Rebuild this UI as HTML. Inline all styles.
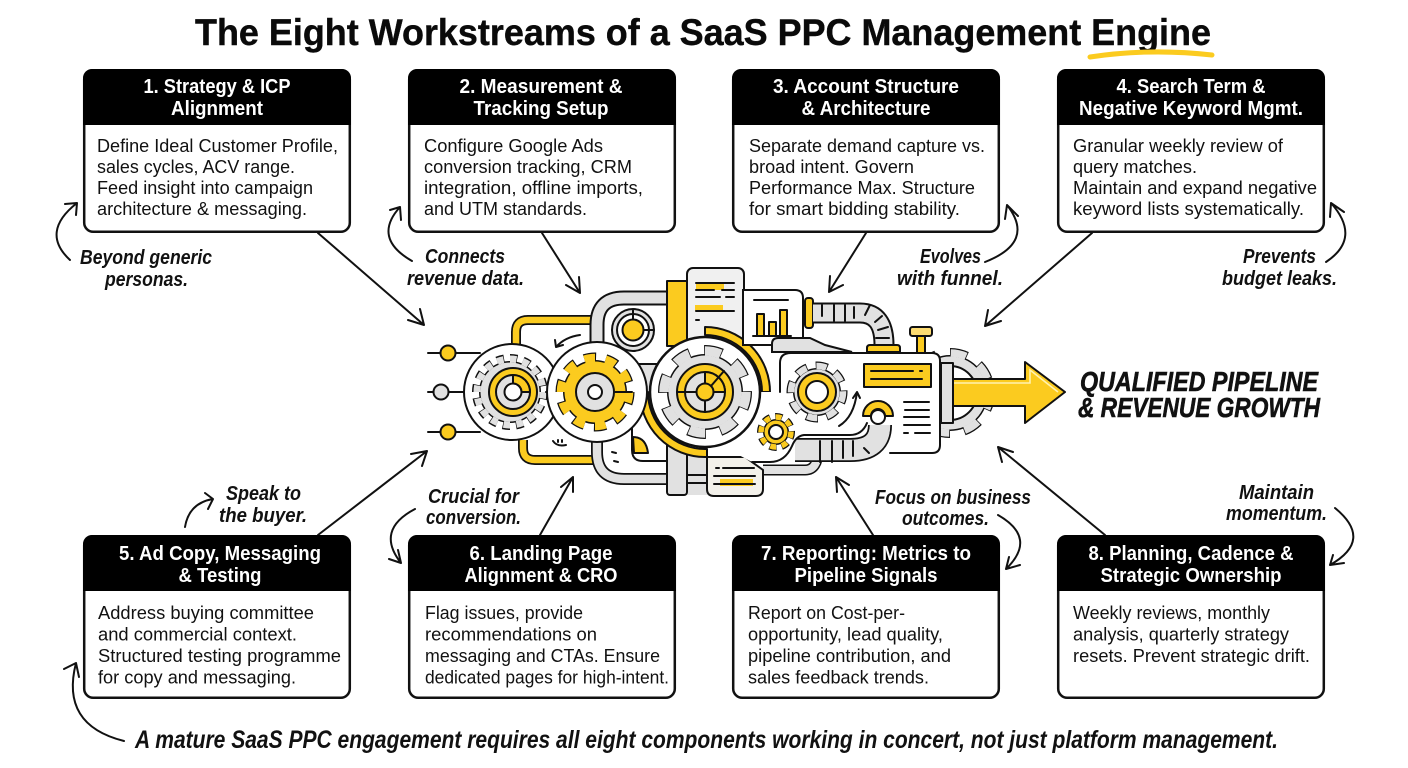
<!DOCTYPE html>
<html><head><meta charset="utf-8"><title>The Eight Workstreams of a SaaS PPC Management Engine</title>
<style>
html,body{margin:0;padding:0;background:#fff;width:1408px;height:768px;overflow:hidden}
svg{display:block}
text{font-family:"Liberation Sans",sans-serif}
.h{font-weight:bold;font-size:20px;fill:#fff;text-anchor:middle}
.b{font-size:18.5px;fill:#111}
.n{font-family:"Liberation Sans",sans-serif;font-style:italic;font-weight:bold;font-size:20.5px;fill:#111}
.c{fill:#fff;stroke:#111;stroke-width:2.5}
.k{fill:none;stroke:#111;stroke-width:2;stroke-linecap:round;stroke-linejoin:round}
.m{stroke:#111;stroke-width:2;stroke-linejoin:round;stroke-linecap:round}
.g{fill:#e1e1e1}.y{fill:#fbcb1f}.w{fill:#fff}
</style></head><body>
<svg width="1408" height="768" viewBox="0 0 1408 768" xmlns="http://www.w3.org/2000/svg">
<defs>
<g id="card"><rect class="c" x="1.2" y="1.2" width="265.6" height="161.6" rx="9"/><path d="M0 56V9a9 9 0 0 1 9-9H259a9 9 0 0 1 9 9V56Z" fill="#000"/></g>
</defs>

<text x="195" y="45" font-weight="bold" font-size="37" fill="#0a0a0a" stroke="#0a0a0a" stroke-width=".4" textLength="1016" lengthAdjust="spacingAndGlyphs">The Eight Workstreams of a SaaS PPC Management Engine</text>
<path d="M1090 57Q1150 48 1212 55" fill="none" stroke="#fbcb1f" stroke-width="5" stroke-linecap="round"/>

<!-- connectors -->
<g class="k">
<path d="M318 233L424 325M408 320L424 325L420 309"/>
<path d="M542 233L580 293M566 285L580 293L579 277"/>
<path d="M866 233L829 292M830 276L829 292L843 285"/>
<path d="M1092 233L985 326M988 310L985 326L1001 321"/>
<path d="M318 535L427 451M411 454L427 451L422 466"/>
<path d="M540 535L573 477M561 487L573 477L573 492"/>
<path d="M873 535L836 477M837 492L836 477L849 485"/>
<path d="M1105 535L998 447M1002 462L998 447L1013 452"/>
<path d="M70 260Q40 232 77 203M65 204L77 203L76 215"/>
<path d="M412 261Q372 238 400 207M390 210L400 207L401 220"/>
<path d="M985 262Q1036 242 1007 205M1005 219L1007 205L1018 216"/>
<path d="M1326 262Q1362 238 1331 203M1330 217L1331 203L1344 212"/>
<path d="M185 527Q189 503 213 499M205 493L213 499L208 509"/>
<path d="M415 509Q375 530 401 563M389 559L401 563L398 550"/>
<path d="M998 515Q1038 538 1006 569M1009 557L1006 569L1020 565"/>
<path d="M1335 508Q1374 540 1330 565M1333 555L1330 565L1344 563"/>
<path d="M124 741Q60 725 76 663M64 669L76 663L79 677"/>
</g>

<!-- cards -->
<use href="#card" x="83" y="69"/><use href="#card" x="408" y="69"/><use href="#card" x="732" y="69"/><use href="#card" x="1057" y="69"/>
<use href="#card" x="83" y="535"/><use href="#card" x="408" y="535"/><use href="#card" x="732" y="535"/><use href="#card" x="1057" y="535"/>

<text class="h" x="217" y="93" textLength="147" lengthAdjust="spacingAndGlyphs">1. Strategy &amp; ICP</text>
<text class="h" x="217" y="115" textLength="92" lengthAdjust="spacingAndGlyphs">Alignment</text>
<text class="b" x="97" y="152" textLength="241" lengthAdjust="spacingAndGlyphs">Define Ideal Customer Profile,</text>
<text class="b" x="97" y="173" textLength="198" lengthAdjust="spacingAndGlyphs">sales cycles, ACV range.</text>
<text class="b" x="97" y="194" textLength="216" lengthAdjust="spacingAndGlyphs">Feed insight into campaign</text>
<text class="b" x="97" y="215" textLength="210" lengthAdjust="spacingAndGlyphs">architecture &amp; messaging.</text>

<text class="h" x="541" y="93" textLength="163" lengthAdjust="spacingAndGlyphs">2. Measurement &amp;</text>
<text class="h" x="541" y="115" textLength="135" lengthAdjust="spacingAndGlyphs">Tracking Setup</text>
<text class="b" x="424" y="152" textLength="179" lengthAdjust="spacingAndGlyphs">Configure Google Ads</text>
<text class="b" x="424" y="173" textLength="208" lengthAdjust="spacingAndGlyphs">conversion tracking, CRM</text>
<text class="b" x="424" y="194" textLength="219" lengthAdjust="spacingAndGlyphs">integration, offline imports,</text>
<text class="b" x="424" y="215" textLength="163" lengthAdjust="spacingAndGlyphs">and UTM standards.</text>

<text class="h" x="866" y="93" textLength="186" lengthAdjust="spacingAndGlyphs">3. Account Structure</text>
<text class="h" x="866" y="115" textLength="129" lengthAdjust="spacingAndGlyphs">&amp; Architecture</text>
<text class="b" x="749" y="152" textLength="236" lengthAdjust="spacingAndGlyphs">Separate demand capture vs.</text>
<text class="b" x="749" y="173" textLength="165" lengthAdjust="spacingAndGlyphs">broad intent. Govern</text>
<text class="b" x="749" y="194" textLength="226" lengthAdjust="spacingAndGlyphs">Performance Max. Structure</text>
<text class="b" x="749" y="215" textLength="211" lengthAdjust="spacingAndGlyphs">for smart bidding stability.</text>

<text class="h" x="1191" y="93" textLength="149" lengthAdjust="spacingAndGlyphs">4. Search Term &amp;</text>
<text class="h" x="1191" y="115" textLength="224" lengthAdjust="spacingAndGlyphs">Negative Keyword Mgmt.</text>
<text class="b" x="1073" y="152" textLength="210" lengthAdjust="spacingAndGlyphs">Granular weekly review of</text>
<text class="b" x="1073" y="173" textLength="124" lengthAdjust="spacingAndGlyphs">query matches.</text>
<text class="b" x="1073" y="194" textLength="244" lengthAdjust="spacingAndGlyphs">Maintain and expand negative</text>
<text class="b" x="1073" y="215" textLength="231" lengthAdjust="spacingAndGlyphs">keyword lists systematically.</text>

<text class="h" x="220" y="560" textLength="202" lengthAdjust="spacingAndGlyphs">5. Ad Copy, Messaging</text>
<text class="h" x="220" y="582" textLength="83" lengthAdjust="spacingAndGlyphs">&amp; Testing</text>
<text class="b" x="98" y="619" textLength="216" lengthAdjust="spacingAndGlyphs">Address buying committee</text>
<text class="b" x="98" y="640.5" textLength="199" lengthAdjust="spacingAndGlyphs">and commercial context.</text>
<text class="b" x="98" y="662" textLength="243" lengthAdjust="spacingAndGlyphs">Structured testing programme</text>
<text class="b" x="98" y="683.5" textLength="198" lengthAdjust="spacingAndGlyphs">for copy and messaging.</text>

<text class="h" x="541" y="560" textLength="143" lengthAdjust="spacingAndGlyphs">6. Landing Page</text>
<text class="h" x="541" y="582" textLength="153" lengthAdjust="spacingAndGlyphs">Alignment &amp; CRO</text>
<text class="b" x="425" y="619" textLength="158" lengthAdjust="spacingAndGlyphs">Flag issues, provide</text>
<text class="b" x="425" y="640.5" textLength="172" lengthAdjust="spacingAndGlyphs">recommendations on</text>
<text class="b" x="425" y="662" textLength="235" lengthAdjust="spacingAndGlyphs">messaging and CTAs. Ensure</text>
<text class="b" x="425" y="683.5" textLength="244" lengthAdjust="spacingAndGlyphs">dedicated pages for high-intent.</text>

<text class="h" x="866" y="560" textLength="210" lengthAdjust="spacingAndGlyphs">7. Reporting: Metrics to</text>
<text class="h" x="866" y="582" textLength="143" lengthAdjust="spacingAndGlyphs">Pipeline Signals</text>
<text class="b" x="748" y="619" textLength="157" lengthAdjust="spacingAndGlyphs">Report on Cost-per-</text>
<text class="b" x="748" y="640.5" textLength="195" lengthAdjust="spacingAndGlyphs">opportunity, lead quality,</text>
<text class="b" x="748" y="662" textLength="203" lengthAdjust="spacingAndGlyphs">pipeline contribution, and</text>
<text class="b" x="748" y="683.5" textLength="181" lengthAdjust="spacingAndGlyphs">sales feedback trends.</text>

<text class="h" x="1191" y="560" textLength="205" lengthAdjust="spacingAndGlyphs">8. Planning, Cadence &amp;</text>
<text class="h" x="1191" y="582" textLength="181" lengthAdjust="spacingAndGlyphs">Strategic Ownership</text>
<text class="b" x="1073" y="619" textLength="197" lengthAdjust="spacingAndGlyphs">Weekly reviews, monthly</text>
<text class="b" x="1073" y="640.5" textLength="216" lengthAdjust="spacingAndGlyphs">analysis, quarterly strategy</text>
<text class="b" x="1073" y="662" textLength="237" lengthAdjust="spacingAndGlyphs">resets. Prevent strategic drift.</text>

<!-- notes -->
<text class="n" x="80" y="264" textLength="132" lengthAdjust="spacingAndGlyphs">Beyond generic</text>
<text class="n" x="105" y="286" textLength="83" lengthAdjust="spacingAndGlyphs">personas.</text>
<text class="n" x="425" y="263" textLength="80" lengthAdjust="spacingAndGlyphs">Connects</text>
<text class="n" x="407" y="285" textLength="117" lengthAdjust="spacingAndGlyphs">revenue data.</text>
<text class="n" x="920" y="263" textLength="61" lengthAdjust="spacingAndGlyphs">Evolves</text>
<text class="n" x="897" y="285" textLength="106" lengthAdjust="spacingAndGlyphs">with funnel.</text>
<text class="n" x="1243" y="263" textLength="73" lengthAdjust="spacingAndGlyphs">Prevents</text>
<text class="n" x="1222" y="285" textLength="115" lengthAdjust="spacingAndGlyphs">budget leaks.</text>
<text class="n" x="226" y="500" textLength="75" lengthAdjust="spacingAndGlyphs">Speak to</text>
<text class="n" x="219" y="522" textLength="88" lengthAdjust="spacingAndGlyphs">the buyer.</text>
<text class="n" x="428" y="503" textLength="91" lengthAdjust="spacingAndGlyphs">Crucial for</text>
<text class="n" x="426" y="524" textLength="95" lengthAdjust="spacingAndGlyphs">conversion.</text>
<text class="n" x="875" y="504" textLength="156" lengthAdjust="spacingAndGlyphs">Focus on business</text>
<text class="n" x="902" y="525" textLength="87" lengthAdjust="spacingAndGlyphs">outcomes.</text>
<text class="n" x="1239" y="499" textLength="75" lengthAdjust="spacingAndGlyphs">Maintain</text>
<text class="n" x="1226" y="520" textLength="101" lengthAdjust="spacingAndGlyphs">momentum.</text>
<text class="n" x="135" y="748" font-size="25" style="font-size:25px" textLength="1143" lengthAdjust="spacingAndGlyphs">A mature SaaS PPC engagement requires all eight components working in concert, not just platform management.</text>
<text class="n" x="1080" y="391" style="font-size:28px" textLength="238" lengthAdjust="spacingAndGlyphs" stroke="#111" stroke-width=".6">QUALIFIED PIPELINE</text>
<text class="n" x="1078" y="417" style="font-size:28px" textLength="242" lengthAdjust="spacingAndGlyphs" stroke="#111" stroke-width=".6">&amp; REVENUE GROWTH</text>

<!-- machine -->
<g>
<!-- input lines -->
<g class="k"><path d="M428 353H480M428 392H470M428 432H480"/></g>
<circle class="y m" cx="448" cy="353" r="7.5"/><circle class="g m" cx="441" cy="392" r="7.5"/><circle class="y m" cx="448" cy="432" r="7.5"/>

<!-- yellow pipes -->
<path d="M516 345V332Q516 320 528 320H594" fill="none" stroke="#111" stroke-width="10"/>
<path d="M516 345V332Q516 320 528 320H594" fill="none" stroke="#fbcb1f" stroke-width="6.5"/>
<path d="M523 440V448Q523 460 535 460H594" fill="none" stroke="#111" stroke-width="10"/>
<path d="M523 440V448Q523 460 535 460H594" fill="none" stroke="#fbcb1f" stroke-width="6.5"/>

<!-- big grey pipes -->
<path d="M597 345V325Q597 298 624 298H670" fill="none" stroke="#111" stroke-width="15"/>
<path d="M597 345V325Q597 298 624 298H670" fill="none" stroke="#e1e1e1" stroke-width="11"/>
<path d="M597 440V452Q597 479 624 479H670" fill="none" stroke="#111" stroke-width="12"/>
<path d="M597 440V452Q597 479 624 479H670" fill="none" stroke="#e1e1e1" stroke-width="8.5"/>
<path d="M632 417V450Q632 461 643 461H668" class="k"/>
<path d="M633 437Q646 437 648 453H634Z" class="y m" stroke-width="1.5"/>
<path d="M612 452l4 1M614 461l4 1" class="k"/>

<!-- yellow block + document -->
<rect class="y m" x="667" y="281" width="24" height="65"/>
<rect x="687" y="268" width="57" height="90" rx="6" fill="#f0f0f0" stroke="#111" stroke-width="2"/>
<rect x="696" y="284" width="28" height="6" class="y"/><rect x="695" y="305" width="28" height="6" class="y"/>
<path class="k" d="M696 283H734M696 290H714M722 290H734M696 297H720M726 297H734M696 311H734M696 320H699"/>

<!-- dial -->
<circle class="g m" cx="633" cy="330" r="21"/><circle class="w m" cx="633" cy="330" r="16"/><circle class="y m" cx="633" cy="330" r="10.5"/>
<path class="k" d="M633 310V319M644 330H654"/>

<!-- connector block -->
<path class="g m" d="M625 400V378L635 364H665V400Z"/>
<!-- vertical pipes/doc lower -->
<rect x="687" y="453" width="20" height="42" class="g"/>
<path class="k" d="M687 475H707M687 483H707"/>
<rect class="g m" x="667" y="440" width="20" height="55" rx="3"/>
<path d="M640 392A65 65 0 0 0 705 457H707V449H705A57 57 0 0 1 648 392Z" class="y m"/>
<path d="M705 327A65 65 0 0 1 770 392H762A57 57 0 0 0 705 335Z" class="y m"/>

<!-- lower doc -->
<path d="M763 470H805Q818 470 818 450" fill="none" stroke="#111" stroke-width="11"/>
<path d="M763 470H805Q818 470 818 450" fill="none" stroke="#e1e1e1" stroke-width="8"/>
<path d="M707 457H745L763 470V489Q763 496 756 496H714Q707 496 707 489Z" fill="#f3f1ea" stroke="#111" stroke-width="2"/>
<rect x="720" y="479" width="33" height="7" class="y"/>
<path class="k" d="M716 468H719M723 468H754M714 476H755M714 484H755"/>

<!-- chart panel -->
<path d="M743 290H795Q803 290 803 298V345H743Z" fill="#fff" stroke="#111" stroke-width="2"/>
<rect class="y m" x="757" y="314" width="7" height="22" stroke-width="1.6"/><rect class="y m" x="769" y="322" width="7" height="14" stroke-width="1.6"/><rect class="y m" x="780" y="310" width="7" height="26" stroke-width="1.6"/>
<path class="k" d="M754 300H788M753 336H791"/>
<rect class="y m" x="805" y="298" width="8" height="30" rx="3"/>

<!-- top right pipe -->
<path d="M813 313H860Q884 313 884 345" fill="none" stroke="#111" stroke-width="21"/>
<path d="M813 313H860Q884 313 884 345" fill="none" stroke="#e1e1e1" stroke-width="17"/>
<path class="k" stroke-width="1.6" d="M822 305V316M834 305V321M845 305V321M854 307V318M865 315L870 305M875 322L882 316M878 330L888 327M876 338H889"/>
<path class="y m" d="M867 352V348Q867 345 870 345H897Q900 345 900 348V352Z"/>
<rect class="y m" x="917" y="336" width="8" height="17"/>
<rect x="910" y="327" width="22" height="9" rx="2.5" fill="#fddc72" stroke="#111" stroke-width="2"/>
<path d="M772 352V344Q772 338 778 338H810L825 345L852 352Z" fill="#e1e1e1" stroke="#111" stroke-width="2"/>

<!-- big grey gear behind arrow -->
<circle cx="950" cy="393" r="38" fill="#111"/>
<circle cx="950" cy="393" r="40" fill="none" stroke="#111" stroke-width="10" pathLength="16" stroke-dasharray="1.1 .9"/>
<circle cx="950" cy="393" r="40" fill="none" stroke="#e1e1e1" stroke-width="7.5" pathLength="16" stroke-dasharray="1 1" stroke-dashoffset="-.05"/>
<circle cx="950" cy="393" r="36.5" fill="#e1e1e1"/>
<circle cx="950" cy="393" r="27" fill="#fff" stroke="#111" stroke-width="2"/>

<!-- bottom pipe in panel (behind panel) -->
<path d="M795 450H850Q880 450 880 425" fill="none" stroke="#111" stroke-width="24"/>
<path d="M795 450H850Q880 450 880 425" fill="none" stroke="#e1e1e1" stroke-width="20.5"/>

<!-- main panel -->
<path d="M791 353H932Q940 353 940 361V445Q940 453 932 453H890L893 425H867Q862 435 850 435H804Q796 436 792 446Q785 462 770 462H752L735 453V440H730L740 392H780V363Q780 353 791 353Z" fill="#fff" stroke="none"/>
<path d="M780 392V363Q780 353 791 353H932Q940 353 940 361V445Q940 453 932 453H890M867 423Q862 435 850 435H804Q796 436 792 446Q785 462 770 462H752" class="k"/>
<path class="k" stroke-width="1.6" d="M820 441V462M832 441V462M843 441V458M853 441V456M864 448l5 5"/>
<rect class="g m" x="941" y="363" width="12" height="60"/>
<rect class="y m" x="864" y="364" width="67" height="23" stroke-width="2.4"/>
<path class="k" d="M871 371H913M920 371H922M871 379H922"/>
<path class="k" d="M904 402H929M905 410H929M904 417H929M904 425H930M904 433H908M915 433H930"/>

<!-- arrow -->
<path d="M953 379H1025V362L1065 392L1025 423V406H953Z" fill="#fbcb1f" stroke="#111" stroke-width="2" stroke-linejoin="round"/>
<path d="M954 383H1030V370L1058 392" fill="none" stroke="#fff2b0" stroke-width="1.6"/>

<!-- gear 1 -->
<circle class="w m" cx="512" cy="392" r="48"/>
<circle cx="510" cy="392" r="33" fill="none" stroke="#111" stroke-width="10" pathLength="32" stroke-dasharray="1.1 .9"/>
<circle cx="510" cy="392" r="31" fill="#111"/>
<circle cx="510" cy="392" r="33" fill="none" stroke="#e1e1e1" stroke-width="7" pathLength="32" stroke-dasharray="1 1"/>
<circle cx="510" cy="392" r="29.5" fill="#e1e1e1"/>
<circle class="y m" cx="513" cy="392" r="24"/><circle class="g m" cx="513" cy="392" r="17"/><circle class="w m" cx="513" cy="392" r="8.5"/>
<path d="M513 375A17 17 0 0 1 530 392H521.5A8.500 8.500 0 0 0 513 383.500Z" class="y m"/>
<path class="k" d="M546 392H552"/>

<!-- gear 2 -->
<circle class="w m" cx="597" cy="392" r="50"/>
<circle cx="595" cy="392" r="34" fill="none" stroke="#111" stroke-width="11" pathLength="20" stroke-dasharray="1.1 .9"/>
<circle cx="595" cy="392" r="32" fill="#111"/>
<circle cx="595" cy="392" r="34" fill="none" stroke="#fbcb1f" stroke-width="8.5" pathLength="20" stroke-dasharray="1 1"/>
<circle cx="595" cy="392" r="30.500" fill="#fbcb1f"/>
<circle class="g m" cx="595" cy="392" r="19"/><circle class="w m" cx="595" cy="392" r="7"/>
<path class="k" d="M556 347Q565 337 580 335M555 340l1 7 7-2M553 441Q557 447 566 445M558 440v2M562 440v2"/>
<path class="k" d="M615 392H632"/>

<!-- gear 3 -->
<circle class="w" stroke="#111" stroke-width="2.5" cx="705" cy="392" r="55"/>
<circle cx="705" cy="392" r="41" fill="none" stroke="#111" stroke-width="12" pathLength="16" stroke-dasharray="1.1 .9" stroke-dashoffset=".05"/>
<circle cx="705" cy="392" r="38" fill="#111"/>
<circle cx="705" cy="392" r="41" fill="none" stroke="#e1e1e1" stroke-width="9.5" pathLength="16" stroke-dasharray="1 1"/>
<circle cx="705" cy="392" r="36.500" fill="#e1e1e1"/>
<circle class="y m" cx="705" cy="392" r="28"/>
<circle class="g m" cx="705" cy="392" r="20"/>
<path d="M705 372A20 20 0 0 1 725 392H705Z" class="y m"/>
<circle class="y m" cx="705" cy="392" r="8.500"/>
<path class="k" d="M677 392H696M705 401V412M711 386L724 371"/>

<!-- panel gears -->
<circle cx="817" cy="392" r="26" fill="none" stroke="#111" stroke-width="9" pathLength="16" stroke-dasharray="1.15 .85" stroke-dashoffset=".07"/>
<circle cx="817" cy="392" r="24" fill="#111"/>
<circle cx="817" cy="392" r="26" fill="none" stroke="#e1e1e1" stroke-width="6.5" pathLength="16" stroke-dasharray="1 1"/>
<circle cx="817" cy="392" r="22.500" fill="#e1e1e1"/>
<circle class="y m" cx="817" cy="392" r="19"/><circle class="w m" cx="817" cy="392" r="11"/>
<path class="k" d="M839 426Q854 417 857 392M853 398l4-6 3 6"/>

<circle cx="776" cy="432" r="15" fill="none" stroke="#111" stroke-width="8" pathLength="16" stroke-dasharray="1.15 .85" stroke-dashoffset=".07"/>
<circle cx="776" cy="432" r="13" fill="#111"/>
<circle cx="776" cy="432" r="15" fill="none" stroke="#fbcb1f" stroke-width="5.500" pathLength="16" stroke-dasharray="1 1"/>
<circle cx="776" cy="432" r="11.500" fill="#fbcb1f"/>
<circle class="w m" cx="776" cy="432" r="7"/>

<!-- hump -->
<path d="M863 416A15 15 0 0 1 893 416H885A7 7 0 0 0 871 416Z" class="y m"/>
<circle class="w m" cx="878" cy="417" r="7"/>
</g>
</svg>
</body></html>
